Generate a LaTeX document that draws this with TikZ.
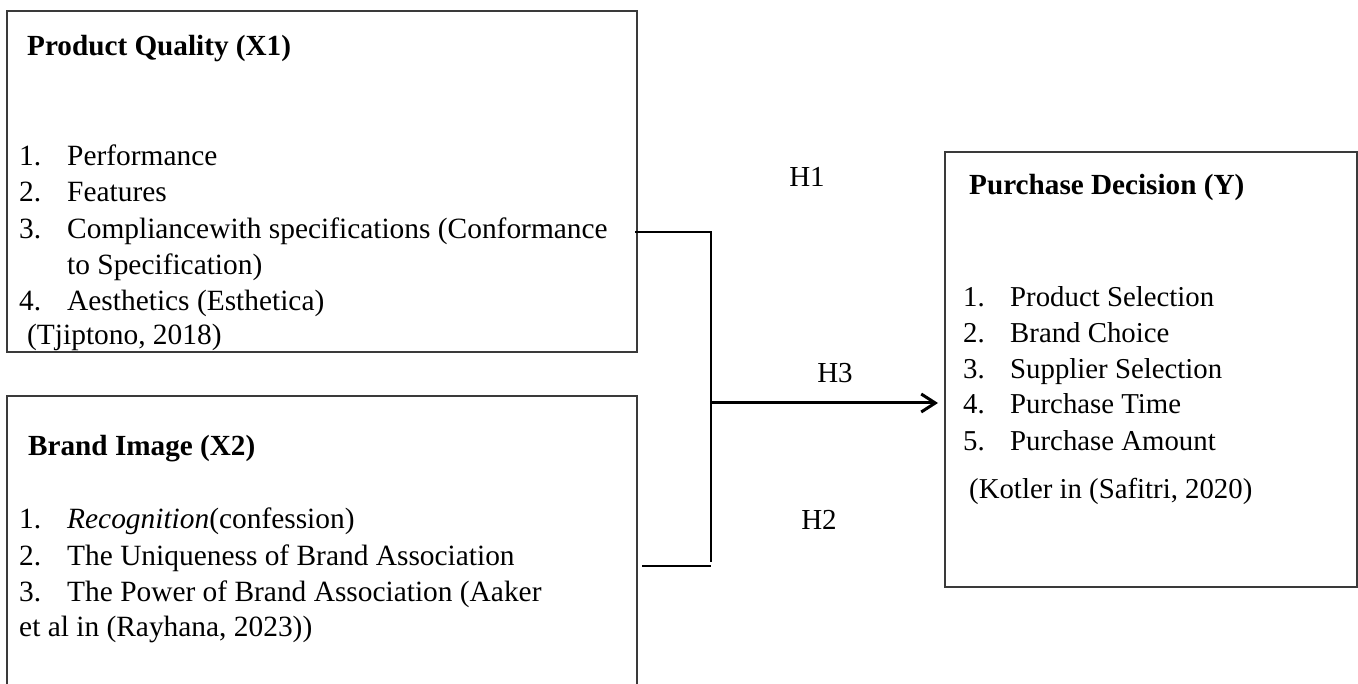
\documentclass[tikz,border=0pt]{standalone}
\usepackage{fontspec}
\setmainfont{Liberation Serif}
\usetikzlibrary{arrows.meta}
\definecolor{boxgray}{HTML}{3A3A3A}
\begin{document}
\begin{tikzpicture}[x=1pt,y=-1pt,
  boxframe/.style={draw=boxgray, line width=1.3pt, inner sep=0pt, outer sep=0pt, anchor=north west},
  txt/.style={anchor=base west, inner sep=0pt, font=\fontsize{29.4}{34}\selectfont},
  ttl/.style={anchor=base west, inner sep=0pt, font=\fontsize{29.2}{34}\selectfont\bfseries},
  rtxt/.style={anchor=base west, inner sep=0pt, font=\fontsize{28.8}{34}\selectfont},
  rttl/.style={anchor=base west, inner sep=0pt, font=\fontsize{29.2}{34}\selectfont\bfseries},
  hlab/.style={inner sep=0pt, font=\fontsize{29}{34}\selectfont},
  conn/.style={line width=2pt, black},
  mainarrow/.style={line width=3pt, black, -{Straight Barb[length=14pt,width=18pt,line width=3pt]}}
]
\clip (0,0) rectangle (1358,684);
\fill[white] (0,0) rectangle (1358,684);
% boxes
\node[boxframe, minimum width=630pt, minimum height=341pt] (pq) at (7,11) {};
\node[boxframe, minimum width=630pt, minimum height=320pt] (bi) at (7,396) {};
\node[boxframe, minimum width=412pt, minimum height=435pt] (pd) at (945,152) {};
% Product Quality
\node[ttl] (pqt) at (27,56) {Product Quality (X1)};
\node[txt] (pq1n) at (19,166) {1.};
\node[txt] (pq1) at (67,166) {Performance};
\node[txt] (pq2n) at (19,202) {2.};
\node[txt] (pq2) at (67,202) {Features};
\node[txt] (pq3n) at (19,239) {3.};
\node[txt] (pq3) at (67,239) {Compliancewith specifications (Conformance};
\node[txt] (pq3b) at (67,275) {to Specification)};
\node[txt] (pq4n) at (19,311) {4.};
\node[txt] (pq4) at (67,311) {Aesthetics (Esthetica)};
\node[txt] (pqs) at (27,345) {(Tjiptono, 2018)};
% Brand Image
\node[ttl] (bit) at (28,456) {Brand Image (X2)};
\node[txt] (bi1n) at (19,528) {1.};
\node[txt] (bi1) at (67,528) {\textit{Recognition}(confession)};
\node[txt] (bi2n) at (19,565) {2.};
\node[txt] (bi2) at (67,565) {The Uniqueness of Brand Association};
\node[txt] (bi3n) at (19,601) {3.};
\node[txt] (bi3) at (67,601) {The Power of Brand Association (Aaker};
\node[txt] (bi3b) at (19,636) {et al in (Rayhana, 2023))};
% Purchase Decision
\node[rttl] (pdt) at (969,195) {Purchase Decision (Y)};
\node[rtxt] (pd1n) at (963,307) {1.};
\node[rtxt] (pd1) at (1010,307) {Product Selection};
\node[rtxt] (pd2n) at (963,343) {2.};
\node[rtxt] (pd2) at (1010,343) {Brand Choice};
\node[rtxt] (pd3n) at (963,379) {3.};
\node[rtxt] (pd3) at (1010,379) {Supplier Selection};
\node[rtxt] (pd4n) at (963,414) {4.};
\node[rtxt] (pd4) at (1010,414) {Purchase Time};
\node[rtxt] (pd5n) at (963,450) {5.};
\node[rtxt] (pd5) at (1010,450) {Purchase Amount};
\node[rtxt] (pds) at (969,499) {(Kotler in (Safitri, 2020)};
% hypothesis labels
\node[hlab] (h1) at (807,177) {H1};
\node[hlab] (h3) at (835,373) {H3};
\node[hlab] (h2) at (819,520) {H2};
% connectors
\coordinate (jt) at (711,232);
\coordinate (jv) at (711,562);
\coordinate (jb) at (711,566);
\coordinate (jm) at (711,403);
\draw[conn] ([xshift=-2pt]pq.east |- jt) -- (jt) -- (jv);
\draw[conn] ([xshift=5pt]bi.east |- jb) -- (jb);
\draw[mainarrow, shorten >=7pt] (jm) -- (pd.west |- jm);
\end{tikzpicture}
\end{document}
